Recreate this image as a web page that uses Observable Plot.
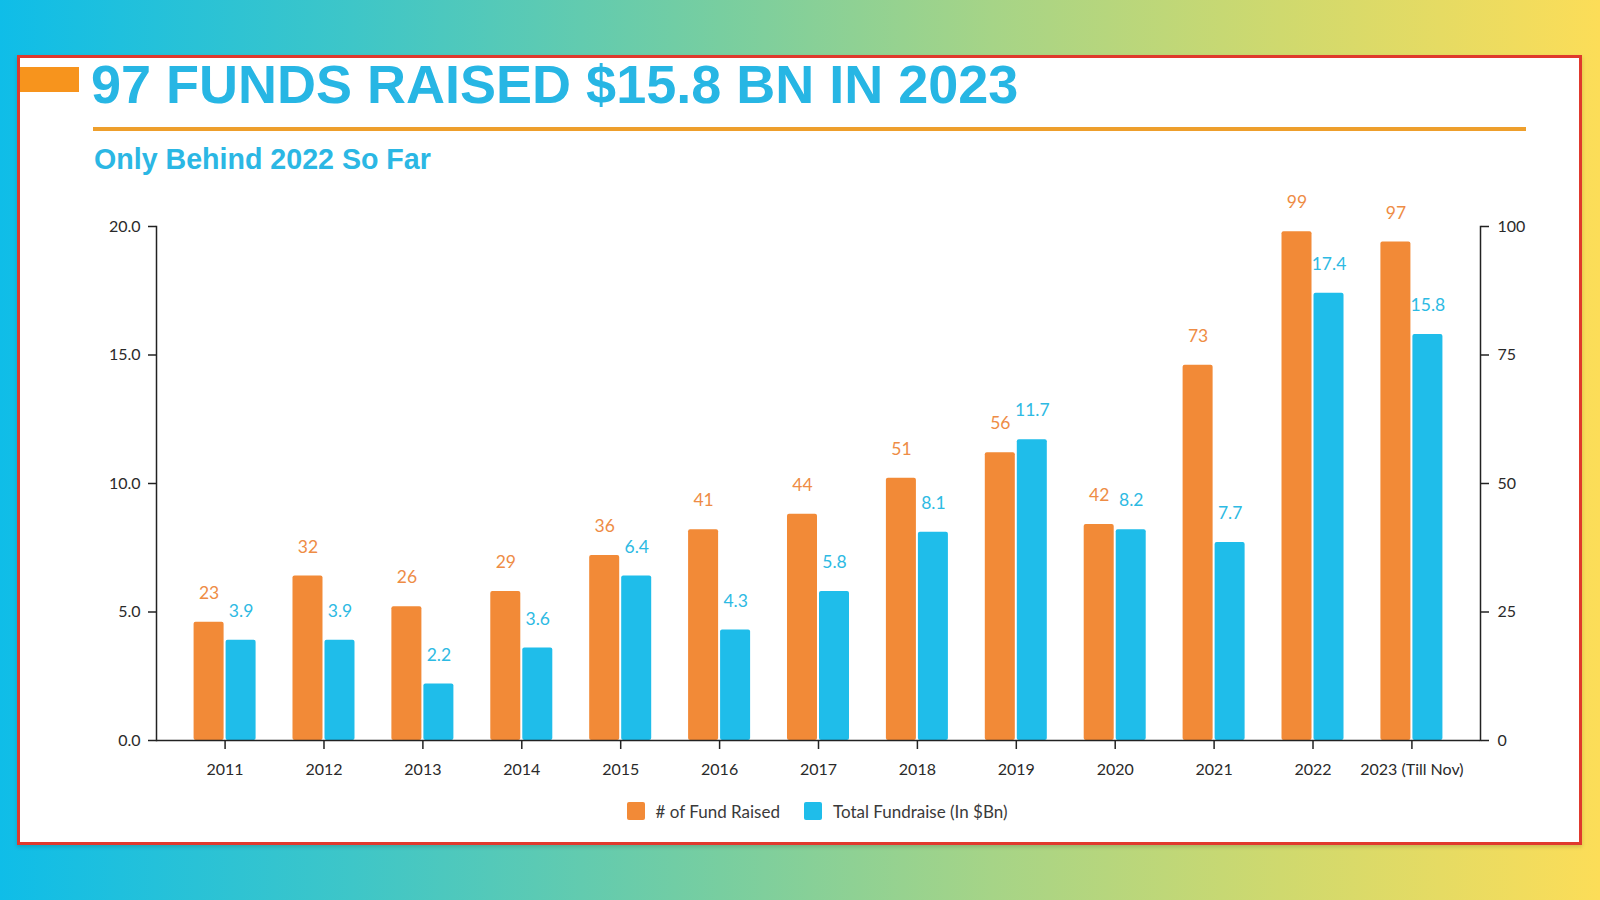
<!DOCTYPE html>
<html>
<head>
<meta charset="utf-8">
<script src="https://cdn.jsdelivr.net/npm/d3@7"></script>
<script src="https://cdn.jsdelivr.net/npm/@observablehq/plot@0.6"></script>
<style>
  html, body { margin: 0; padding: 0; }
  body {
    width: 1600px; height: 900px; position: relative; overflow: hidden;
    background: linear-gradient(90deg, #0FBDE8 0%, #3EC6C8 22%, #78CEA0 45%, #A6D487 62%, #CFD96E 80%, #FCDD58 100%);
    font-family: Lato, "Open Sans", sans-serif;
  }
  #panel {
    position: absolute; left: 17px; top: 55px; width: 1565px; height: 790px;
    box-sizing: border-box; background: #fff; border: 3px solid #E0392D;
    box-shadow: 0 2px 4px rgba(0,0,0,0.15);
  }
  #accent { position: absolute; left: 20px; top: 67px; width: 59px; height: 25px; background: #F7941D; }
  #title {
    position: absolute; left: 91px; top: 57px; margin: 0;
    font: bold 54px/54px "Liberation Sans", Arial, sans-serif; color: #27B6E4; white-space: nowrap;
  }
  #rule { position: absolute; left: 93px; top: 127px; width: 1433px; height: 4px; background: #EE9F2C; }
  #subtitle {
    position: absolute; left: 94px; top: 145px; margin: 0;
    font: bold 28.6px/28px "Liberation Sans", Arial, sans-serif; color: #2BB7E4; white-space: nowrap;
  }
  #chart { position: absolute; left: 0; top: 190px; }
  #legend {
    position: absolute; left: 0; width: 1600px; top: 799px; height: 24px; box-sizing: border-box; padding-left: 34px;
    display: flex; justify-content: center; align-items: center; gap: 0;
    font-size: 17px; color: #3a3a3a;
  }
  .sw { width: 18px; height: 18px; border-radius: 2px; display: inline-block; margin-right: 11px; }
  .item { display: flex; align-items: center; margin: 0 12px; }
</style>
</head>
<body>
<div id="panel"></div>
<div id="accent"></div>
<div id="title">97 FUNDS RAISED $15.8 BN IN 2023</div>
<div id="rule"></div>
<div id="subtitle">Only Behind 2022 So Far</div>
<div id="chart"></div>
<div id="legend"></div>
<script>
// ---- data ----
const years = ["2011","2012","2013","2014","2015","2016","2017","2018","2019","2020","2021","2022","2023 (Till Nov)"];
const fundCount = [23, 32, 26, 29, 36, 41, 44, 51, 56, 42, 73, 99, 97];
const fundTotal = [3.9, 3.9, 2.2, 3.6, 6.4, 4.3, 5.8, 8.1, 11.7, 8.2, 7.7, 17.4, 15.8];
const seriesNames = ["# of Fund Raised", "Total Fundraise (In $Bn)"];
const seriesColors = ["#F28A37", "#1FBDEA"];
const labelColors = ["#EE8C45", "#2DBAE3"];
const leftTicks = [0, 5, 10, 15, 20];
const rightTicks = [0, 25, 50, 75, 100];

// right axis (counts 0–100) shares the left axis pixels (0–20)
const ratio = rightTicks[rightTicks.length - 1] / leftTicks[leftTicks.length - 1];

const countRows = years.map((yr, i) => ({year: yr, series: seriesNames[0], value: fundCount[i], y: fundCount[i] / ratio, label: String(fundCount[i])}));
const totalRows = years.map((yr, i) => ({year: yr, series: seriesNames[1], value: fundTotal[i], y: fundTotal[i], label: fundTotal[i].toFixed(1)}));

const half = 32; // half of each year's band (bar width 30 + 2px gap)

const chart = Plot.plot({
  width: 1600,
  height: 600,
  marginLeft: 156,
  marginRight: 120,
  marginTop: 36,
  marginBottom: 50,
  style: {background: "transparent", fontFamily: "Lato, 'Open Sans', sans-serif", fontSize: "16px", color: "#2a2a2a", overflow: "visible"},
  x: {domain: years, paddingInner: 0.373, paddingOuter: 0.38, round: false, label: null, axis: null},
  y: {domain: [0, 20], axis: null},
  color: {domain: seriesNames, range: seriesColors},
  marks: [
    Plot.barY(countRows, {x: "year", y: "y", fill: "series", insetRight: half, rx: 2}),
    Plot.barY(totalRows, {x: "year", y: "y", fill: "series", insetLeft: half, rx: 2}),
    Plot.text(countRows, {x: "year", y: "y", text: "label", dy: -29, dx: -half / 2, fontSize: 17.5, fill: labelColors[0]}),
    Plot.text(totalRows, {x: "year", y: "y", text: "label", dy: -29, dx: half / 2, fontSize: 17.5, fill: labelColors[1]}),
    Plot.ruleY([0], {stroke: "#222", strokeWidth: 1.5}),
    Plot.frame({anchor: "left", stroke: "#222", strokeWidth: 1.5}),
    Plot.frame({anchor: "right", stroke: "#222", strokeWidth: 1.5}),
    Plot.axisY({anchor: "left", ticks: leftTicks, tickFormat: d => d.toFixed(1), tickSize: 8, tickPadding: 8, label: null, stroke: "#222", strokeWidth: 1.5}),
    Plot.axisY({anchor: "right", ticks: rightTicks.map(v => v / ratio), tickFormat: d => String(d * ratio), tickSize: 8, tickPadding: 9, label: null, stroke: "#222", strokeWidth: 1.5}),
    Plot.axisX({anchor: "bottom", tickSize: 9, tickPadding: 14, label: null, stroke: "#222", strokeWidth: 1.5})
  ]
});
document.getElementById("chart").appendChild(chart);

// legend
const legend = document.getElementById("legend");
seriesNames.forEach((name, i) => {
  const item = document.createElement("div");
  item.className = "item";
  const sw = document.createElement("span");
  sw.className = "sw";
  sw.style.background = seriesColors[i];
  const tx = document.createElement("span");
  tx.textContent = name;
  item.appendChild(sw);
  item.appendChild(tx);
  legend.appendChild(item);
});
</script>
</body>
</html>
